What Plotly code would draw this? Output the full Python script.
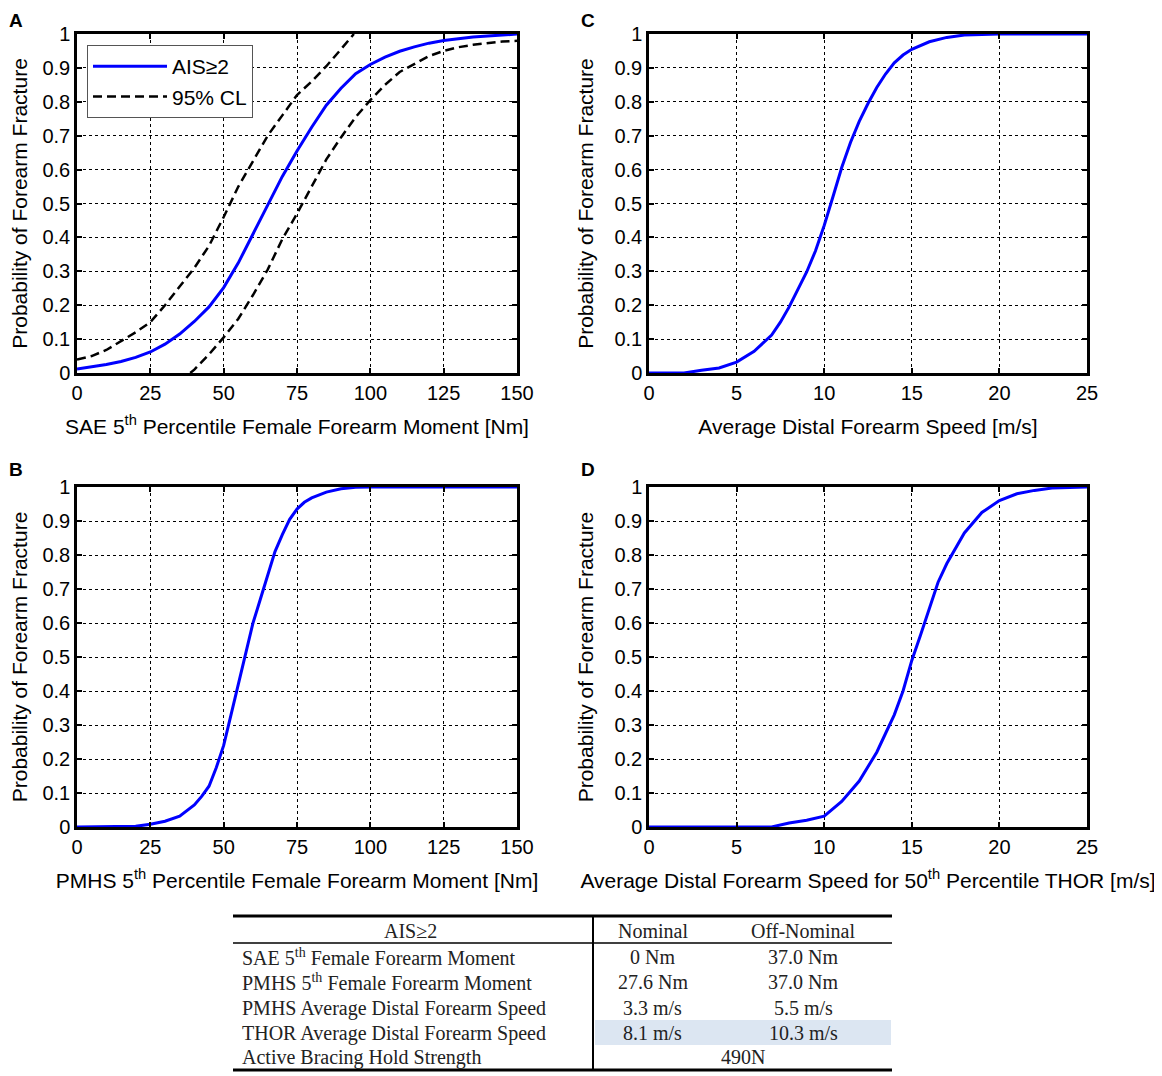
import plotly.graph_objs as go

# ---- data ----
# A: SAE 5th percentile female forearm moment
a_x = [0, 5, 10, 15, 20, 25, 30, 35, 40, 45, 50, 55, 60, 65, 70, 75, 80, 85, 90, 95,
       100, 105, 110, 115, 120, 125, 130, 135, 140, 145, 150]
a_p = [0.012, 0.018, 0.025, 0.034, 0.046, 0.062, 0.085, 0.115, 0.152, 0.195, 0.252, 0.325,
       0.41, 0.495, 0.58, 0.655, 0.725, 0.79, 0.84, 0.883, 0.91, 0.932, 0.949, 0.962,
       0.973, 0.981, 0.987, 0.991, 0.994, 0.997, 1.0]
a_up_x = [0, 5, 10, 15, 20, 25, 30, 35, 40, 45, 50, 55, 60, 65, 70, 75, 80, 85, 90, 94.4]
a_up_p = [0.04, 0.05, 0.068, 0.095, 0.12, 0.15, 0.2, 0.255, 0.31, 0.375, 0.46, 0.55,
          0.625, 0.7, 0.76, 0.82, 0.86, 0.905, 0.955, 1.0]
a_lo_x = [38.6, 40, 45, 50, 55, 60, 65, 70, 75, 80, 85, 90, 95, 100, 105, 110, 115,
          120, 125, 130, 135, 140, 145, 150]
a_lo_p = [0, 0.01, 0.055, 0.105, 0.16, 0.23, 0.305, 0.395, 0.47, 0.55, 0.63, 0.695,
          0.755, 0.805, 0.85, 0.888, 0.912, 0.935, 0.95, 0.961, 0.968, 0.974, 0.978, 0.98]

# B: PMHS 5th percentile female forearm moment
b_x = [0, 20, 25, 30, 35, 40, 42.5, 45, 47.5, 50, 52.5, 55, 57.5, 60, 62.5, 65, 67.5,
       70, 72.5, 75, 77.5, 80, 85, 90, 95, 100, 150]
b_p = [0, 0.002, 0.008, 0.017, 0.032, 0.065, 0.09, 0.12, 0.175, 0.24, 0.33, 0.42, 0.51,
       0.6, 0.67, 0.74, 0.81, 0.86, 0.905, 0.935, 0.955, 0.968, 0.985, 0.995, 0.999, 1.0, 1.0]

# C: average distal forearm speed
c_x = [0, 2, 3, 4, 5, 6, 7, 7.5, 8, 8.5, 9, 9.5, 10, 10.5, 11, 11.5, 12, 12.5, 13, 13.5,
       14, 14.5, 15, 16, 17, 18, 20, 25]
c_p = [0, 0, 0.008, 0.015, 0.032, 0.064, 0.112, 0.15, 0.195, 0.245, 0.298, 0.36, 0.435,
       0.52, 0.606, 0.68, 0.742, 0.795, 0.842, 0.882, 0.915, 0.938, 0.955, 0.977, 0.99,
       0.997, 1.0, 1.0]

# D: average distal forearm speed, 50th percentile THOR
d_x = [0, 7, 8, 9, 10, 11, 12, 13, 13.5, 14, 14.5, 15, 15.5, 16, 16.5, 17, 18, 19, 20,
       21, 22, 23, 25]
d_p = [0, 0, 0.012, 0.02, 0.032, 0.075, 0.135, 0.22, 0.275, 0.33, 0.4, 0.49, 0.565,
       0.645, 0.72, 0.775, 0.865, 0.925, 0.96, 0.98, 0.99, 0.997, 1.0]

# table
tbl_rows = ["SAE 5<sup>th</sup> Female Forearm Moment",
            "PMHS 5<sup>th</sup> Female Forearm Moment",
            "PMHS Average Distal Forearm Speed",
            "THOR Average Distal Forearm Speed",
            "Active Bracing Hold Strength"]
tbl_nominal = ["0 Nm", "27.6 Nm", "3.3 m/s", "8.1 m/s", ""]
tbl_offnominal = ["37.0 Nm", "37.0 Nm", "5.5 m/s", "10.3 m/s", ""]
tbl_merged = "490N"

# page body has an 8px margin, so the figure is drawn 8px smaller and
# positions below are given in window pixels
OFF = 8
W, H = 1162 - OFF, 1076 - OFF
FONT = "Liberation Sans, Arial, sans-serif"
SERIF = "Liberation Serif, Times New Roman, serif"
BLUE = "#0000ff"


def px(x):
    return (x - OFF) / W


def py(y):
    return 1 - (y - OFF) / H


cols = [(77, 517), (649, 1087)]
rows = [(34, 373), (487, 827)]

fig = go.Figure()

dash = "9px,5px"
fig.add_trace(go.Scatter(x=a_x, y=a_p, mode="lines", name="AIS≥2",
                         line=dict(color=BLUE, width=3), xaxis="x", yaxis="y"))
fig.add_trace(go.Scatter(x=a_up_x, y=a_up_p, mode="lines", name="95% CL",
                         line=dict(color="black", width=2.5, dash=dash),
                         xaxis="x", yaxis="y"))
fig.add_trace(go.Scatter(x=a_lo_x, y=a_lo_p, mode="lines", showlegend=False,
                         line=dict(color="black", width=2.5, dash=dash),
                         xaxis="x", yaxis="y"))
fig.add_trace(go.Scatter(x=c_x, y=c_p, mode="lines", showlegend=False,
                         line=dict(color=BLUE, width=3), xaxis="x2", yaxis="y2"))
fig.add_trace(go.Scatter(x=b_x, y=b_p, mode="lines", showlegend=False,
                         line=dict(color=BLUE, width=3), xaxis="x3", yaxis="y3"))
fig.add_trace(go.Scatter(x=d_x, y=d_p, mode="lines", showlegend=False,
                         line=dict(color=BLUE, width=3), xaxis="x4", yaxis="y4"))

xtitles = ["SAE 5<sup>th</sup> Percentile Female Forearm Moment [Nm]",
           "Average Distal Forearm Speed [m/s]",
           "PMHS 5<sup>th</sup> Percentile Female Forearm Moment [Nm]",
           "Average Distal Forearm Speed for 50<sup>th</sup> Percentile THOR [m/s]"]
ranges = [150, 25, 150, 25]
dticks = [25, 5, 25, 5]
places = [(0, 0), (1, 0), (0, 1), (1, 1)]

axis_common = dict(showline=True, linecolor="black", linewidth=2.5, mirror="ticks",
                   ticks="inside", ticklen=5, tickwidth=2, tickcolor="black",
                   showgrid=True, gridcolor="black", gridwidth=1, griddash="dot",
                   zeroline=False, automargin=False,
                   tickfont=dict(family=FONT, size=20, color="black"))

layout = {}
for i in range(4):
    c, r = places[i]
    sfx = "" if i == 0 else str(i + 1)
    layout["xaxis" + sfx] = dict(
        axis_common, domain=[px(cols[c][0]), px(cols[c][1])],
        range=[0, ranges[i]], dtick=dticks[i], anchor="y" + sfx,
        title=dict(text=xtitles[i], font=dict(family=FONT, size=21, color="black"),
                   standoff=17))
    layout["yaxis" + sfx] = dict(
        axis_common, domain=[py(rows[r][1]), py(rows[r][0])],
        range=[0, 1], dtick=0.1, anchor="x" + sfx,
        title=dict(text="Probability of Forearm Fracture",
                   font=dict(family=FONT, size=21, color="black"), standoff=16))

annotations = []
for letter, (lx, ly) in zip("ACBD", [(16, 20), (588, 20), (16, 469), (588, 469)]):
    annotations.append(dict(text="<b>" + letter + "</b>", x=px(lx), y=py(ly),
                            xref="paper", yref="paper", showarrow=False,
                            xanchor="center", yanchor="middle",
                            font=dict(family=FONT, size=19, color="black")))

# ---- table ----
t_left, t_right, t_div = 233, 892, 593
row_y = [957, 982, 1008, 1033, 1057]
shapes = [
    dict(type="rect", xref="paper", yref="paper", x0=px(595), x1=px(891),
         y0=py(1045), y1=py(1020), fillcolor="#dce6f2", line=dict(width=0), layer="below"),
    dict(type="line", xref="paper", yref="paper", x0=px(t_left), x1=px(t_right),
         y0=py(916), y1=py(916), line=dict(color="black", width=3)),
    dict(type="line", xref="paper", yref="paper", x0=px(t_left), x1=px(t_right),
         y0=py(943), y1=py(943), line=dict(color="black", width=1.5)),
    dict(type="line", xref="paper", yref="paper", x0=px(t_left), x1=px(t_right),
         y0=py(1070), y1=py(1070), line=dict(color="black", width=3)),
    dict(type="line", xref="paper", yref="paper", x0=px(t_div), x1=px(t_div),
         y0=py(916), y1=py(1070), line=dict(color="black", width=2)),
]


def cell(text, x, y, anchor="center"):
    return dict(text=text, x=px(x), y=py(y), xref="paper", yref="paper",
                xanchor=anchor, yanchor="middle", showarrow=False,
                font=dict(family=SERIF, size=20, color="#222222"))


annotations.append(cell("AIS≥2", 410, 931))
annotations.append(cell("Nominal", 653, 931))
annotations.append(cell("Off-Nominal", 803, 931))
for i, lab in enumerate(tbl_rows):
    annotations.append(cell(lab, 240, row_y[i], "left"))
    if tbl_nominal[i]:
        annotations.append(cell(tbl_nominal[i], 653, row_y[i]))
    if tbl_offnominal[i]:
        annotations.append(cell(tbl_offnominal[i], 803, row_y[i]))
annotations.append(cell(tbl_merged, 743, row_y[4]))

fig.update_layout(
    width=W, height=H, margin=dict(l=0, r=0, t=0, b=0, autoexpand=False),
    paper_bgcolor="white", plot_bgcolor="white",
    font=dict(family=FONT, color="black"),
    showlegend=True,
    legend=dict(x=px(87), y=py(45), xanchor="left", yanchor="top",
                bgcolor="white", bordercolor="#555555", borderwidth=1,
                font=dict(family=FONT, size=21, color="black"),
                itemwidth=74, tracegroupgap=4),
    annotations=annotations, shapes=shapes,
    **layout)

fig.write_html("out.html")
